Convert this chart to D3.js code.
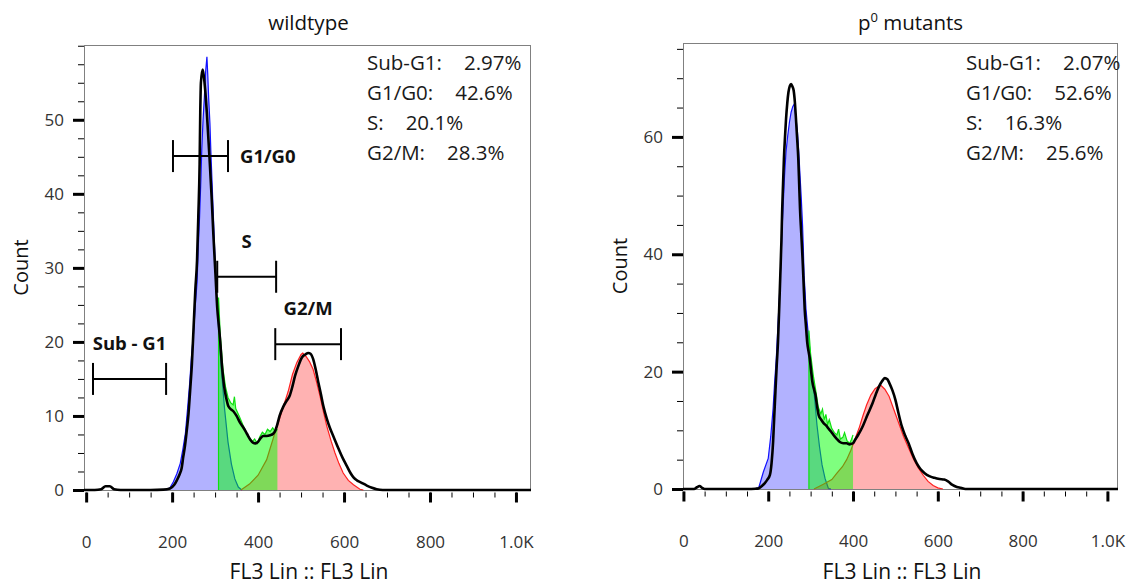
<!DOCTYPE html>
<html>
<head>
<meta charset="utf-8">
<script src="https://cdn.jsdelivr.net/npm/d3@7/dist/d3.min.js"></script>
<style>
  body { margin: 0; background: #fff; }
  svg { display: block; }
  text { font-family: "Open Sans", "Noto Sans", sans-serif; }
</style>
</head>
<body>
<svg id="chart" width="1135" height="586"></svg>
<script>
// ---------- shared axis content ----------
const xTickValues = [0, 200, 400, 600, 800, 1000];
const xTickLabels = ["0", "200", "400", "600", "800", "1.0K"];
const xAxisTitle = "FL3 Lin :: FL3 Lin";
const yAxisTitle = "Count";
const statLabels = ["Sub-G1:", "G1/G0:", "S:", "G2/M:"];

// ---------- wildtype ----------
const wtYTicks = [0, 10, 20, 30, 40, 50];
const wtStatValues = ["2.97%", "42.6%", "20.1%", "28.3%"];

// measured histogram [channel, count]
const wtHist = [
  [-5, 0], [20, 0], [35, 0.1], [45, 0.5], [55, 0.5], [65, 0.1], [80, 0], [150, 0],
  [180, 0.05], [195, 0.2], [205, 0.7], [211, 1.3], [218, 2.2], [222, 2.9], [226, 4.5],
  [230, 6], [234, 8], [238, 10.2], [242, 13.5], [246, 17], [250, 22], [254, 27],
  [258, 31], [261, 37], [264, 44], [265.5, 51], [267, 55], [271, 56.8], [274, 55.8],
  [277, 54], [281, 50.8], [287, 44.9], [292, 39.5], [296, 34.5], [301, 29], [305, 24.6],
  [309, 22], [312, 20], [316, 16.8], [321, 14], [326, 12.4], [331, 11.3], [337, 10.9],
  [343, 10.6], [350, 10], [358, 9.1], [366, 8.4], [374, 7.6], [382, 6.8], [388, 6.4],
  [394, 6.3], [400, 6.5], [406, 7], [412, 7.3], [420, 7.3], [428, 7.4], [435, 7.6],
  [440, 8.0], [444, 8.7], [450, 10], [459, 11.3], [466, 12], [474, 12.8], [480, 14],
  [486, 15.4], [494, 16.8], [502, 17.9], [510, 18.3], [517, 18.5], [522, 18.4],
  [528, 17.7], [534, 16.3], [540, 14.6], [546, 13], [552, 11.3], [560, 9.6], [567, 8.4],
  [577, 7.0], [587, 5.6], [597, 4.3], [606, 3.3], [615, 2.3], [622, 1.7], [630, 1.3],
  [640, 1.0], [653, 0.6], [665, 0.3], [676, 0.1], [690, 0], [1035, 0]
];
// G1/G0 peak fit
const wtG1 = [
  [185, 0], [195, 0.3], [203, 1.1], [211, 2.2], [219, 3.6], [225, 5.5], [231, 7.7],
  [236, 11], [241, 14.5], [245, 18], [250, 21.3], [254, 25], [258, 28], [261, 33],
  [264, 37], [267, 42], [269, 46], [272, 50], [275, 53], [278, 56.5], [281, 58.5],
  [283, 56], [285, 53], [288, 49.5], [290, 46], [293, 41.5], [296, 37], [299, 32.5],
  [302, 28], [305, 25], [308, 22], [315, 16], [322, 11], [330, 6.5], [338, 3.5],
  [346, 1.5], [354, 0.4], [362, 0]
];
// S phase
const wtS = [
  [308, 26], [312, 21], [318, 16.5], [324, 14], [330, 12.5], [336, 11.8], [342, 11.5],
  [345, 12.6], [348, 11], [356, 10], [366, 8.6], [376, 7.4], [386, 6.5], [392, 6.9],
  [398, 6.3], [404, 7.2], [410, 7.8], [416, 7.5], [422, 8.2], [428, 7.9], [434, 8.4],
  [440, 7.9], [445, 8.2]
];
// G2/M peak fit
const wtG2 = [
  [360, 0], [380, 0.8], [400, 2.0], [420, 4.1], [438, 7.5], [450, 9.6], [460, 11.5],
  [470, 13.3], [480, 15.6], [490, 17.2], [500, 18.3], [504, 18.5], [512, 18], [520, 17.3],
  [528, 16.3], [536, 14.6], [544, 12.7], [552, 10.6], [560, 8.6], [570, 6.6], [579, 5],
  [588, 3.6], [598, 2.3], [610, 1.3], [622, 0.7], [637, 0.1], [645, 0]
];
// gates: name, channel range, count level
const wtGateNames = ["Sub - G1", "G1/G0", "S", "G2/M"];
const wtGateLo = [16, 202, 305, 440];
const wtGateHi = [186, 330, 442, 593];
const wtGateLevel = [15.0, 45.1, 28.8, 19.7];

// ---------- p0 mutants ----------
const mtYTicks = [0, 20, 40, 60];
const mtStatValues = ["2.07%", "52.6%", "16.3%", "25.6%"];

const mtHist = [
  [-1, 0], [25, 0], [32, 0.3], [38, 0.5], [44, 0.2], [50, 0], [150, 0], [170, 0.05],
  [177, 0.1], [185, 0.5], [192, 1.0], [198, 1.6], [204, 2.4], [208, 4.5], [211.5, 8],
  [214, 12], [217, 16.6], [220, 21], [223, 25], [226, 31], [228.5, 36.4], [231, 42],
  [233, 47.7], [235, 52], [237, 56.2], [240, 60.5], [242, 63], [245, 65.8], [247.7, 67.6],
  [251, 68.7], [254, 69], [257, 68.6], [260, 67.9], [263, 65.8], [265, 63.6], [268, 60],
  [271, 56.2], [273, 52], [275, 47.7], [278, 43.5], [281, 39.2], [283.5, 35], [286, 30.7],
  [289, 27.8], [292, 25], [295, 23.5], [298, 22.2], [301, 20.2], [304, 18.3], [308, 17],
  [311.5, 16], [315, 14.2], [319, 12.6], [325, 11.8], [331, 11.2], [337, 10.8], [342, 10.3],
  [348, 9.8], [354, 9.2], [361, 8.6], [369, 8.0], [377, 7.8], [385, 7.8], [392, 7.6],
  [396, 7.7], [400, 7.8], [405, 8.4], [412, 9.2], [423, 10.7], [434, 12.6], [446, 14.6],
  [454, 16.2], [461.5, 17.5], [468, 18.3], [475, 18.9], [481, 18.7], [486, 18], [493, 16.8],
  [500, 15.2], [507, 13], [515, 10.7], [523, 9.1], [531, 7.8], [540, 6], [550, 4.4],
  [559, 3.4], [569, 2.7], [580, 2.2], [592, 1.9], [604, 1.7], [615, 1.6], [624, 1.3],
  [634.5, 0.7], [645, 0.35], [654, 0.2], [665, 0], [1025, 0]
];
const mtG1 = [
  [170, 0], [178, 0.3], [188.5, 2.9], [200, 5.2], [206, 9], [211.5, 13.7], [215, 18],
  [219, 22.2], [223, 28], [227, 33.6], [230, 39], [233, 44.9], [236, 49.5], [238.5, 53.4],
  [242, 57.5], [246, 60.2], [250, 62.5], [254, 64.2], [258, 65.2], [261.5, 65.6], [265, 63.5],
  [269, 60.8], [272, 57.5], [275, 53.4], [278, 49.5], [281, 44.9], [283, 40.5], [284.6, 36.4],
  [287, 33.5], [289, 30.7], [291.5, 28.7], [294, 26.8], [299, 23], [304, 19.4], [310, 15],
  [315, 10.9], [321, 7.2], [327, 4.1], [334, 1.8], [342, 0.1], [348, 0]
];
const mtS = [
  [296, 27], [300, 23], [306, 19.5], [312, 16.8], [318, 14], [324, 12.8], [328, 13.6],
  [332, 11.8], [336, 12.7], [340, 11], [344, 11.8], [350, 10.3], [356, 9.6], [362, 9.2],
  [366, 10.2], [370, 8.5], [376, 8.8], [380, 9.6], [386, 8.2], [392, 7.8], [396, 8.4],
  [400, 9.2]
];
const mtG2 = [
  [308, 0], [330, 0.8], [350, 1.6], [362, 2.7], [375, 3.8], [385, 5], [395, 6.6],
  [404, 8.4], [414, 10.3], [423, 12.4], [432, 14.3], [442, 16], [452, 17.1], [465, 17.7],
  [475, 17], [485, 15.8], [496, 13.6], [508, 11.2], [519, 9], [531, 7], [542, 5.2],
  [554, 3.6], [566, 2.3], [577, 1.3], [589, 0.6], [600, 0.2], [612, 0]
];

// ---------- drawing ----------
const svg = d3.select("#chart");

const colors = {
  g1Fill: "rgba(0,0,255,0.30)", g1Line: "#1010ff",
  sFill: "rgba(0,255,0,0.50)", sLine: "#10e010",
  g2Fill: "rgba(255,0,0,0.30)", g2Line: "#ff2020",
  hist: "#000", frame: "#808080", text: "#1a1a1a"
};

function drawPanel(p) {
  const x = d3.scaleLinear().domain(p.xDomain).range([p.left, p.right]);
  const y = d3.scaleLinear().domain(p.yDomain).range([p.bottom, p.top]);
  const g = svg.append("g");

  // title
  const title = g.append("text")
    .attr("x", (p.left + p.right) / 2 + p.titleShift)
    .attr("y", 30)
    .attr("text-anchor", "middle")
    .attr("font-size", 20.5)
    .attr("fill", "#111");
  p.title(title);

  // frame
  g.append("rect")
    .attr("x", p.left + 0.5).attr("y", p.top + 0.5)
    .attr("width", p.right - p.left - 1).attr("height", p.bottom - p.top)
    .attr("fill", "none").attr("stroke", colors.frame).attr("stroke-width", 1);

  // y axis: minor then major ticks
  const yMinor = d3.range(0, p.yDomain[1], p.yMinorStep);
  const yMinorAx = g.append("g").attr("transform", `translate(${p.left},0)`)
    .call(d3.axisLeft(y).tickValues(yMinor).tickSize(6).tickFormat(""));
  yMinorAx.select(".domain").remove();
  yMinorAx.selectAll("line").attr("stroke", "#000").attr("stroke-width", 1);

  const yMajorAx = g.append("g").attr("transform", `translate(${p.left},0)`)
    .call(d3.axisLeft(y).tickValues(p.yTicks).tickSize(11).tickPadding(9));
  yMajorAx.select(".domain").remove();
  yMajorAx.selectAll("line").attr("stroke", "#000").attr("stroke-width", 3);
  yMajorAx.selectAll("text").attr("font-size", 17).attr("fill", "#333")
    .attr("font-family", '"Open Sans", sans-serif');

  // x axis
  const xMinor = d3.range(0, 1001, 50);
  const xMinorAx = g.append("g").attr("transform", `translate(0,${p.bottom + 2.5})`)
    .call(d3.axisBottom(x).tickValues(xMinor).tickSize(5).tickFormat(""));
  xMinorAx.select(".domain").remove();
  xMinorAx.selectAll("line").attr("stroke", "#000").attr("stroke-width", 1);

  const xMajorAx = g.append("g").attr("transform", `translate(0,${p.bottom + 2.5})`)
    .call(d3.axisBottom(x).tickValues(xTickValues).tickSize(10).tickPadding(33)
      .tickFormat((d, i) => xTickLabels[i]));
  xMajorAx.select(".domain").remove();
  xMajorAx.selectAll("line").attr("stroke", "#000").attr("stroke-width", 3);
  xMajorAx.selectAll("text").attr("font-size", 17).attr("fill", "#333")
    .attr("font-family", '"Open Sans", sans-serif');

  // axis titles
  g.append("text")
    .attr("x", (p.left + p.right) / 2 + 1.5).attr("y", 579)
    .attr("text-anchor", "middle").attr("font-size", 21).attr("fill", "#111")
    .text(xAxisTitle);
  g.append("text")
    .attr("transform", `translate(${p.left - 56},${(p.top + p.bottom) / 2})rotate(-90)`)
    .attr("text-anchor", "middle").attr("font-size", 20).attr("fill", "#111")
    .text(yAxisTitle);

  // fitted components
  const area = d3.area().x(d => x(d[0])).y0(y(0)).y1(d => y(d[1]));
  const line = d3.line().x(d => x(d[0])).y(d => y(d[1]));
  const plot = g.append("g");

  plot.append("path").datum(p.g1).attr("d", area).attr("fill", colors.g1Fill);
  plot.append("path").datum(p.g1).attr("d", line)
    .attr("fill", "none").attr("stroke", colors.g1Line).attr("stroke-width", 1.2);
  plot.append("path").datum(p.g2).attr("d", area).attr("fill", colors.g2Fill);
  plot.append("path").datum(p.g2).attr("d", line)
    .attr("fill", "none").attr("stroke", colors.g2Line).attr("stroke-width", 1.2);
  plot.append("path").datum(p.s).attr("d", area).attr("fill", colors.sFill);
  plot.append("path").datum([[p.s[0][0], 0]].concat(p.s)).attr("d", line)
    .attr("fill", "none").attr("stroke", colors.sLine).attr("stroke-width", 1.2);

  // measured histogram
  plot.append("path").datum(p.hist)
    .attr("d", d3.line().x(d => x(d[0])).y(d => y(d[1])).curve(d3.curveMonotoneX))
    .attr("fill", "none").attr("stroke", colors.hist)
    .attr("stroke-width", 2.6).attr("stroke-linejoin", "round");

  // gates
  if (p.gates) {
    const gt = g.append("g").attr("stroke", "#000").attr("stroke-width", 2);
    p.gates.names.forEach((name, i) => {
      const x0 = x(p.gates.lo[i]), x1 = x(p.gates.hi[i]), yy = y(p.gates.level[i]);
      gt.append("line").attr("x1", x0).attr("x2", x1).attr("y1", yy).attr("y2", yy);
      [x0, x1].forEach(xx => gt.append("line")
        .attr("x1", xx).attr("x2", xx).attr("y1", yy - 16).attr("y2", yy + 16));
      const lab = g.append("text").attr("font-size", 18.5).attr("font-weight", 700)
        .attr("fill", "#111").text(name);
      if (name === "G1/G0") {
        lab.attr("x", x1 + 12).attr("y", yy + 6.5).attr("text-anchor", "start");
      } else {
        lab.attr("x", (x0 + x1) / 2).attr("y", yy - 29).attr("text-anchor", "middle");
      }
    });
  }

  // statistics
  const sx = p.left + 283;
  statLabels.forEach((lbl, i) => {
    const t = g.append("text").attr("x", sx).attr("y", 70 + 30 * i)
      .attr("font-size", 20.5).attr("fill", colors.text).text(lbl);
    const w = t.node().getComputedTextLength();
    g.append("text").attr("x", sx + w + 22).attr("y", 70 + 30 * i)
      .attr("font-size", 20.5).attr("fill", colors.text).text(p.stats[i]);
  });
}

drawPanel({
  left: 84, right: 531, top: 45, bottom: 490,
  xDomain: [-5, 1035], yDomain: [0, 60.1], yTicks: wtYTicks, yMinorStep: 2.5,
  hist: wtHist, g1: wtG1, s: wtS, g2: wtG2, stats: wtStatValues,
  gates: { names: wtGateNames, lo: wtGateLo, hi: wtGateHi, level: wtGateLevel },
  titleShift: 1,
  title: t => t.text("wildtype")
});

drawPanel({
  left: 683, right: 1118, top: 43, bottom: 489,
  xDomain: [-1, 1025], yDomain: [0, 76], yTicks: mtYTicks, yMinorStep: 5,
  hist: mtHist, g1: mtG1, s: mtS, g2: mtG2, stats: mtStatValues,
  gates: null,
  titleShift: 10,
  title: t => {
    t.append("tspan").text("p");
    t.append("tspan").attr("font-size", 13).attr("dy", -8).text("0");
    t.append("tspan").attr("dy", 8).text(" mutants");
  }
});
</script>
</body>
</html>
